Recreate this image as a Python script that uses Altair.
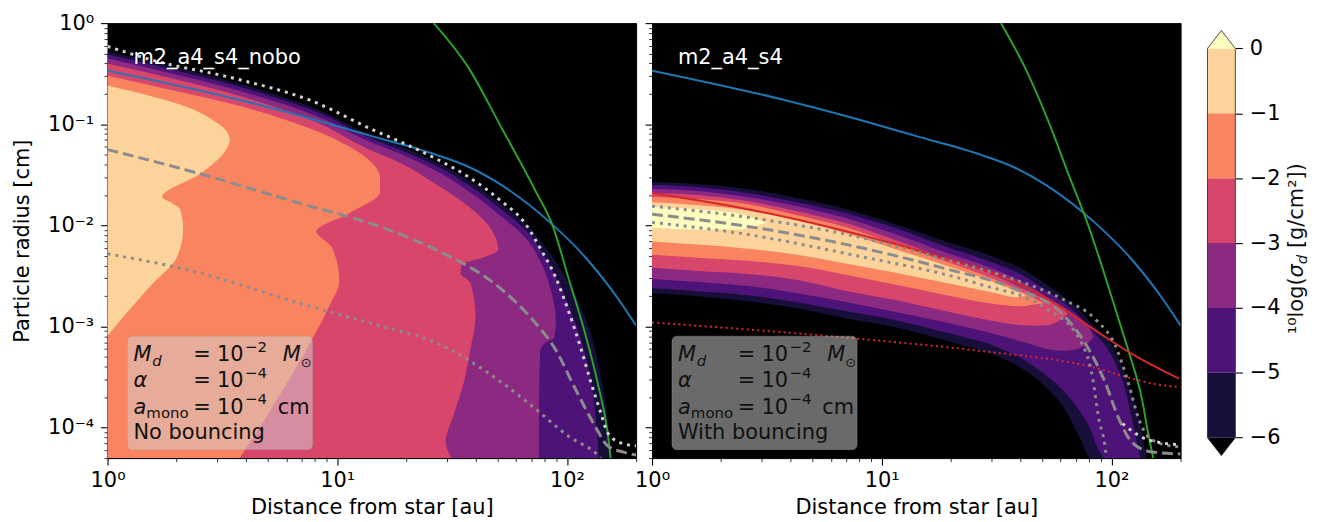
import altair as alt
import numpy as np
import pandas as pd

FONT = "DejaVu Sans"
FS = 21

# ---------------- axes ----------------
X_DOMAIN = [1, 200]
Y_DOMAIN = [5e-5, 1]
X_MAJOR = [1, 10, 100]
Y_MAJOR = [1e-4, 1e-3, 1e-2, 1e-1, 1]
X_MINOR = [2, 3, 4, 5, 6, 7, 8, 9, 20, 30, 40, 50, 60, 70, 80, 90, 200]
Y_MINOR = [5e-5, 6e-5, 7e-5, 8e-5, 9e-5,
           2e-4, 3e-4, 4e-4, 5e-4, 6e-4, 7e-4, 8e-4, 9e-4,
           2e-3, 3e-3, 4e-3, 5e-3, 6e-3, 7e-3, 8e-3, 9e-3,
           2e-2, 3e-2, 4e-2, 5e-2, 6e-2, 7e-2, 8e-2, 9e-2,
           0.2, 0.3, 0.4, 0.5, 0.6, 0.7, 0.8, 0.9]

# ---------------- colour levels ----------------
CBAR_TICKS = [-6, -5, -4, -3, -2, -1, 0]
LEVEL_COLORS = ["#170f3a", "#4e1379", "#8c2981", "#d8466b", "#f8855f", "#fcd49b"]
OVER_COLOR = "#fcfdbf"
UNDER_COLOR = "#000004"

# ---------------- left panel (no bouncing): level boundaries, log10 values ----------------
# right-hand edge (log10 x) of the region >= level, as a function of log10 y
L6_LOGY = [-0.28, -0.60, -0.82, -1.10, -1.22, -1.37, -1.55, -1.79, -1.98, -2.21, -2.47, -2.75, -3.04, -3.34, -3.63, -3.93, -4.17, -4.30]
L6_LOGX = [0, 0.576, 0.879, 1.139, 1.281, 1.429, 1.571, 1.714, 1.818, 1.905, 1.983, 2.048, 2.100, 2.134, 2.160, 2.177, 2.190, 2.195]
L5_LOGY = [-0.31, -0.63, -0.85, -1.13, -1.26, -1.41, -1.60, -1.84, -2.04, -2.28, -2.55, -2.85, -3.19, -3.53, -3.93, -4.30]
L5_LOGX = [0, 0.576, 0.879, 1.139, 1.281, 1.429, 1.571, 1.714, 1.818, 1.896, 1.961, 2.017, 2.069, 2.104, 2.126, 2.139]
L4_LOGY = [-0.35, -0.67, -0.89, -1.17, -1.30, -1.46, -1.66, -1.91, -2.12, -2.37, -2.65, -2.94, -3.11, -3.17, -3.26, -3.73, -4.30]
L4_LOGX = [0, 0.576, 0.879, 1.139, 1.281, 1.429, 1.571, 1.714, 1.818, 1.887, 1.931, 1.952, 1.944, 1.900, 1.883, 1.879, 1.879]
L3_LOGY = [-0.40, -0.72, -0.95, -1.25, -1.39, -1.59, -1.81, -2.04, -2.24, -2.31, -2.39, -2.47, -2.57, -2.90, -3.22, -3.56, -3.88, -4.14, -4.30]
L3_LOGX = [0, 0.576, 0.879, 1.139, 1.281, 1.429, 1.571, 1.671, 1.701, 1.645, 1.541, 1.537, 1.580, 1.602, 1.580, 1.550, 1.506, 1.472, 1.498]
L2_LOGY = [-0.52, -0.66, -0.82, -1.04, -1.22, -1.37, -1.52, -1.67, -1.88, -2.06, -2.22, -2.55, -2.80, -3.12, -3.68, -4.30]
L2_LOGX = [0, 0.273, 0.576, 0.879, 1.052, 1.147, 1.186, 1.186, 1.052, 0.909, 0.978, 1.009, 0.965, 0.892, 0.749, 0.576]
L1_LOGY = [-0.62, -0.72, -0.83, -0.96, -1.05, -1.16, -1.27, -1.49, -1.72, -1.78, -1.84, -2.04, -2.31, -2.60, -3.09]
L1_LOGX = [0, 0.186, 0.346, 0.459, 0.511, 0.532, 0.511, 0.403, 0.238, 0.281, 0.316, 0.329, 0.303, 0.186, 0]

# ---------------- right panel (with bouncing): upper / lower edge of each level ----------------
R6_LOGX = [0, 0.199, 0.416, 0.632, 0.848, 1.065, 1.281, 1.498, 1.628, 1.714, 1.801, 1.866, 1.909, 1.952, 1.996, 2.039, 2.082, 2.113, 2.139, 2.152]
R6_HI = [-1.57, -1.59, -1.64, -1.73, -1.84, -1.99, -2.16, -2.32, -2.45, -2.58, -2.72, -2.85, -2.96, -3.05, -3.16, -3.36, -3.61, -3.85, -4.12, -4.30]
R6_LO = [-2.67, -2.70, -2.75, -2.82, -2.92, -3.01, -3.14, -3.29, -3.44, -3.60, -3.83, -4.12, -4.30, -4.30, -4.30, -4.30, -4.30, -4.30, -4.30, -4.30]
R5_LOGX = [0, 0.199, 0.416, 0.632, 0.848, 1.065, 1.281, 1.498, 1.628, 1.714, 1.801, 1.866, 1.909, 1.931, 1.974, 2.017, 2.061, 2.091, 2.113, 2.126]
R5_HI = [-1.60, -1.62, -1.68, -1.77, -1.88, -2.03, -2.21, -2.38, -2.51, -2.64, -2.78, -2.91, -3.02, -3.08, -3.19, -3.36, -3.63, -3.93, -4.17, -4.30]
R5_LO = [-2.62, -2.65, -2.69, -2.76, -2.85, -2.94, -3.06, -3.20, -3.34, -3.48, -3.66, -3.85, -4.02, -4.15, -4.30, -4.30, -4.30, -4.30, -4.30, -4.30]
R4_LOGX = [0, 0.199, 0.416, 0.632, 0.848, 1.065, 1.281, 1.498, 1.628, 1.714, 1.801, 1.866, 1.909, 1.922]
R4_HI = [-1.64, -1.66, -1.72, -1.81, -1.93, -2.09, -2.27, -2.44, -2.58, -2.70, -2.82, -2.93, -3.04, -3.10]
R4_LO = [-2.53, -2.56, -2.60, -2.67, -2.76, -2.86, -2.96, -3.08, -3.16, -3.22, -3.24, -3.21, -3.14, -3.10]
R3_LOGX = [0, 0.199, 0.416, 0.632, 0.848, 1.065, 1.281, 1.498, 1.628, 1.714, 1.779, 1.810]
R3_HI = [-1.68, -1.70, -1.76, -1.86, -1.98, -2.15, -2.33, -2.50, -2.64, -2.73, -2.81, -2.87]
R3_LO = [-2.42, -2.45, -2.48, -2.54, -2.65, -2.74, -2.85, -2.95, -2.99, -2.99, -2.93, -2.87]
R2_LOGX = [0, 0.199, 0.416, 0.632, 0.848, 1.065, 1.281, 1.498, 1.606, 1.671, 1.706]
R2_HI = [-1.72, -1.74, -1.79, -1.90, -2.02, -2.19, -2.36, -2.54, -2.65, -2.73, -2.77]
R2_LO = [-2.29, -2.32, -2.35, -2.40, -2.49, -2.59, -2.69, -2.78, -2.80, -2.78, -2.77]
R1_LOGX = [0, 0.199, 0.416, 0.632, 0.848, 1.065, 1.281, 1.498, 1.584, 1.628]
R1_HI = [-1.77, -1.80, -1.85, -1.95, -2.08, -2.24, -2.40, -2.57, -2.65, -2.69]
R1_LO = [-2.16, -2.19, -2.23, -2.29, -2.38, -2.47, -2.57, -2.67, -2.71, -2.69]
R0_LOGX = [0, 0.199, 0.372, 0.459, 0.502]
R0_HI = [-1.82, -1.84, -1.88, -1.94, -1.97]
R0_LO = [-2.02, -2.04, -2.04, -2.00, -1.97]

# ---------------- overplotted curves (log10 x, log10 y) ----------------
BLUE_LOGX = [0, 0.576, 0.879, 1.139, 1.429, 1.571, 1.714, 1.931, 2.078, 2.221, 2.301]
BLUE_LOGY = [-0.47, -0.76, -0.94, -1.11, -1.30, -1.42, -1.60, -1.98, -2.31, -2.72, -2.99]
GREEN_L_LOGX = [1.420, 1.571, 1.714, 1.861, 1.939, 2.004, 2.078, 2.134, 2.177, 2.190]
GREEN_L_LOGY = [0.0, -0.44, -1.03, -1.65, -2.01, -2.50, -3.06, -3.56, -4.05, -4.30]
GREEN_R_LOGX = [1.519, 1.628, 1.727, 1.814, 1.896, 1.965, 2.030, 2.074, 2.134, 2.160, 2.182]
GREEN_R_LOGY = [0.0, -0.46, -0.98, -1.50, -1.98, -2.45, -2.92, -3.24, -3.73, -4.06, -4.30]
DASH_L_LOGX = [0, 0.403, 0.835, 1.182, 1.429, 1.714, 1.861, 1.948, 2.035, 2.121, 2.177, 2.242, 2.301]
DASH_L_LOGY = [-1.25, -1.49, -1.78, -2.01, -2.24, -2.63, -2.96, -3.22, -3.61, -3.98, -4.18, -4.24, -4.27]
DOT_L_LOGX = [0, 0.403, 0.835, 1.182, 1.429, 1.714, 1.861, 2.004, 2.134, 2.147]
DOT_L_LOGY = [-2.28, -2.47, -2.77, -2.99, -3.16, -3.55, -3.81, -4.08, -4.27, -4.30]
WDOT_L_LOGX = [0, 0.186, 0.576, 0.879, 1.160, 1.281, 1.429, 1.571, 1.714, 1.818, 1.887, 1.948, 2.004, 2.061, 2.104, 2.147, 2.177, 2.234, 2.301]
WDOT_L_LOGY = [-0.23, -0.36, -0.56, -0.76, -1.06, -1.18, -1.34, -1.52, -1.76, -1.98, -2.24, -2.50, -2.83, -3.22, -3.55, -3.85, -4.05, -4.15, -4.18]
RED_LOGX = [0, 0.416, 0.848, 1.281, 1.571, 1.788, 1.931, 2.104, 2.294]
RED_LOGY = [-1.68, -1.84, -2.06, -2.33, -2.55, -2.82, -3.04, -3.29, -3.515]
REDDOT_LOGX = [0, 0.848, 1.424, 1.857, 2.221, 2.301]
REDDOT_LOGY = [-2.96, -3.11, -3.24, -3.37, -3.58, -3.60]
DASH_R_LOGX = [0, 0.416, 0.848, 1.281, 1.571, 1.788, 1.887, 1.974, 2.030, 2.091, 2.177, 2.301]
DASH_R_LOGY = [-1.89, -2.01, -2.19, -2.43, -2.62, -2.88, -3.17, -3.56, -3.90, -4.15, -4.24, -4.26]
DOTA_R_LOGX = [0, 0.416, 0.848, 1.281, 1.571, 1.788, 1.931, 2.017, 2.074, 2.117, 2.160, 2.234, 2.301]
DOTA_R_LOGY = [-1.81, -1.92, -2.09, -2.34, -2.53, -2.73, -2.93, -3.19, -3.56, -3.90, -4.09, -4.17, -4.19]
DOTB_R_LOGX = [0, 0.416, 0.848, 1.424, 1.714, 1.857, 1.918, 1.944, 1.974, 1.978]
DOTB_R_LOGY = [-1.97, -2.09, -2.28, -2.58, -2.82, -3.11, -3.51, -3.90, -4.22, -4.30]
WDOT_R_LOGX = [2.048, 2.160, 2.301]
WDOT_R_LOGY = [-3.96, -4.12, -4.17]

PANEL_TITLES = ["m2_a4_s4_nobo", "m2_a4_s4"]
BOX_LAST = ["No bouncing", "With bouncing"]

# ---------------- helpers ----------------
XS = alt.Scale(type="log", domain=X_DOMAIN, nice=False)
YS = alt.Scale(type="log", domain=Y_DOMAIN, nice=False)
ONE = pd.DataFrame({"k": [0]})
XLAB = "datum.value == 1 ? '10⁰' : datum.value == 10 ? '10¹' : '10²'"
YLAB = ("datum.value > 0.5 ? '10⁰' : datum.value > 0.05 ? '10⁻¹' : datum.value > 0.005 ? '10⁻²' : "
        "datum.value > 0.0005 ? '10⁻³' : '10⁻⁴'")


def pw(v):
    return 10.0 ** np.asarray(v, dtype=float)


def hband(logy, logx, color):
    df = pd.DataFrame({"y": pw(logy), "x": pw(logx)})
    df["x0"] = 1.0
    return alt.Chart(df).mark_area(orient="horizontal", color=color, clip=True,
                                   interpolate="monotone").encode(
        y=alt.Y("y:Q", scale=YS, axis=None),
        x=alt.X("x0:Q", scale=XS, axis=None),
        x2="x:Q")


def vband(logx, hi, lo, color):
    df = pd.DataFrame({"x": pw(logx), "hi": pw(hi), "lo": pw(lo)})
    return alt.Chart(df).mark_area(color=color, clip=True, interpolate="monotone").encode(
        x=alt.X("x:Q", scale=XS, axis=None),
        y=alt.Y("lo:Q", scale=YS, axis=None),
        y2="hi:Q")


def curve(logx, logy, color, width, dash=None):
    df = pd.DataFrame({"x": pw(logx), "y": pw(logy), "i": range(len(logx))})
    kw = dict(color=color, strokeWidth=width, clip=True, interpolate="monotone")
    if dash:
        kw["strokeDash"] = dash
    return alt.Chart(df).mark_line(**kw).encode(
        x=alt.X("x:Q", scale=XS, axis=None),
        y=alt.Y("y:Q", scale=YS, axis=None),
        order="i:Q")


def axes_layers(ylabels, ytitle):
    pt = pd.DataFrame({"ax": [10.0], "ay": [0.01]})
    minor = alt.Chart(pt).mark_point(opacity=0).encode(
        x=alt.X("ax:Q", scale=XS, axis=alt.Axis(orient="bottom", values=X_MINOR, labels=False, title="",
                                                tickSize=3.5, tickWidth=0.8, domain=False, grid=False)),
        y=alt.Y("ay:Q", scale=YS, axis=alt.Axis(orient="left", values=Y_MINOR, labels=False, title="",
                                                tickSize=3.5, tickWidth=0.8, domain=False, grid=False)))
    yax = dict(orient="left", values=Y_MAJOR, labelExpr=YLAB, tickSize=7, tickWidth=1.1, labelPadding=7,
               labelFlush=False, domain=False, grid=False, title=ytitle, titlePadding=15)
    if not ylabels:
        yax["labels"] = False
    major = alt.Chart(pt).mark_point(opacity=0).encode(
        x=alt.X("ax:Q", scale=XS, axis=alt.Axis(orient="bottom", values=X_MAJOR, labelExpr=XLAB, tickSize=7,
                                                tickWidth=1.1, labelPadding=5, labelFlush=False, domain=False,
                                                grid=False, title="Distance from star [au]", titlePadding=6)),
        y=alt.Y("ay:Q", scale=YS, axis=alt.Axis(**yax)))
    return [minor, major]


def txt(s, x, y, size=FS, italic=False, color="#111111", angle=0, align="left"):
    kw = dict(text=s, font=FONT, fontSize=size, color=color, align=align, baseline="alphabetic")
    if italic:
        kw["fontStyle"] = "italic"
    if angle:
        kw["angle"] = angle
    return alt.Chart(ONE).mark_text(**kw).encode(x=alt.value(x), y=alt.value(y))


def info_box(last_line):
    box = alt.Chart(ONE).mark_rect(cornerRadius=5, fill="#d4d4d4", fillOpacity=0.5, stroke="#9a9a9a",
                                   strokeOpacity=0.35, strokeWidth=1).encode(
        x=alt.value(20), x2=alt.value(206), y=alt.value(314.5), y2=alt.value(428.5))
    pieces = [
        ("M", 26, 339.5, FS, True), ("d", 45, 344.5, 15, True), ("=", 86, 339.5, FS, False),
        ("10", 110, 339.5, FS, False), ("−2", 138, 330, 15, False), ("M", 176, 339.5, FS, True),
        ("⊙", 194, 345, 13, False),
        ("α", 26, 366, FS, True), ("=", 86, 366, FS, False), ("10", 110, 366, FS, False),
        ("−4", 138, 356.5, 15, False),
        ("a", 26, 392.5, FS, True), ("mono", 39, 396.5, 15, False), ("=", 86, 392.5, FS, False),
        ("10", 110, 392.5, FS, False), ("−4", 138, 383, 15, False), ("cm", 171, 392.5, FS, False),
        (last_line, 26, 417.5, FS, False),
    ]
    return [box] + [txt(s, x, y, size=sz, italic=it) for s, x, y, sz, it in pieces]


PANEL_VIEW = alt.ViewBackground(fill="#000000", stroke="#000000", strokeWidth=1)

# ---------------- left panel ----------------
left_layers = axes_layers(True, "Particle radius [cm]")
for ly, lx, col in [(L6_LOGY, L6_LOGX, LEVEL_COLORS[0]), (L5_LOGY, L5_LOGX, LEVEL_COLORS[1]),
                    (L4_LOGY, L4_LOGX, LEVEL_COLORS[2]), (L3_LOGY, L3_LOGX, LEVEL_COLORS[3]),
                    (L2_LOGY, L2_LOGX, LEVEL_COLORS[4]), (L1_LOGY, L1_LOGX, LEVEL_COLORS[5])]:
    left_layers.append(hband(ly, lx, col))
left_layers += [
    curve(BLUE_LOGX, BLUE_LOGY, "#1f77b4", 2),
    curve(GREEN_L_LOGX, GREEN_L_LOGY, "#2ca02c", 2),
    curve(DASH_L_LOGX, DASH_L_LOGY, "#8c8c8c", 3, [11, 5]),
    curve(DOT_L_LOGX, DOT_L_LOGY, "#8c8c8c", 3, [3, 5]),
    curve(WDOT_L_LOGX, WDOT_L_LOGY, "#d2d2d2", 3, [3, 5]),
]
left_layers += info_box(BOX_LAST[0])
left_layers.append(txt(PANEL_TITLES[0], 26, 41, color="#ffffff"))
left = alt.layer(*left_layers).resolve_axis(x="independent", y="independent").properties(
    width=531, height=437, view=PANEL_VIEW)

# ---------------- right panel ----------------
right_layers = axes_layers(False, "")
for lx, hi, lo, col in [(R6_LOGX, R6_HI, R6_LO, LEVEL_COLORS[0]), (R5_LOGX, R5_HI, R5_LO, LEVEL_COLORS[1]),
                        (R4_LOGX, R4_HI, R4_LO, LEVEL_COLORS[2]), (R3_LOGX, R3_HI, R3_LO, LEVEL_COLORS[3]),
                        (R2_LOGX, R2_HI, R2_LO, LEVEL_COLORS[4]), (R1_LOGX, R1_HI, R1_LO, LEVEL_COLORS[5]),
                        (R0_LOGX, R0_HI, R0_LO, OVER_COLOR)]:
    right_layers.append(vband(lx, hi, lo, col))
right_layers += [
    curve(BLUE_LOGX, BLUE_LOGY, "#1f77b4", 2),
    curve(GREEN_R_LOGX, GREEN_R_LOGY, "#2ca02c", 2),
    curve(RED_LOGX, RED_LOGY, "#d62728", 2),
    curve(REDDOT_LOGX, REDDOT_LOGY, "#d62728", 2, [2, 3.3]),
    curve(DOTA_R_LOGX, DOTA_R_LOGY, "#8c8c8c", 3, [3, 5]),
    curve(DOTB_R_LOGX, DOTB_R_LOGY, "#8c8c8c", 3, [3, 5]),
    curve(DASH_R_LOGX, DASH_R_LOGY, "#8c8c8c", 3, [11, 5]),
    curve(WDOT_R_LOGX, WDOT_R_LOGY, "#d2d2d2", 3, [3, 5]),
]
right_layers += info_box(BOX_LAST[1])
right_layers.append(txt(PANEL_TITLES[1], 26, 41, color="#ffffff"))
right = alt.layer(*right_layers).resolve_axis(x="independent", y="independent").properties(
    width=531, height=437, view=PANEL_VIEW)

# ---------------- colour bar ----------------
CBX = alt.Scale(domain=[-0.393, 1], nice=False, zero=False)
CBY = alt.Scale(domain=[-6.315, 0.391], nice=False, zero=False)
cb_df = pd.DataFrame({"lo": CBAR_TICKS[:-1], "hi": CBAR_TICKS[1:], "col": LEVEL_COLORS})
cb_df["x0"] = 0.0
cb_df["x1"] = 1.0
cb_rects = alt.Chart(cb_df).mark_rect().encode(
    x=alt.X("x0:Q", scale=CBX, axis=None), x2="x1:Q",
    y=alt.Y("lo:Q", scale=CBY, axis=alt.Axis(orient="right", values=CBAR_TICKS, format="d", tickSize=7,
                                            tickWidth=1.1, labelPadding=7, labelFlush=False, domain=False,
                                            grid=False, title="")),
    y2="hi:Q",
    color=alt.Color("col:N", scale=None))
tri_top = alt.Chart(pd.DataFrame({"tx": [0, 0.5, 1], "tb": [0, 0, 0], "tt": [0, 0.276, 0]})).mark_area(
    color=OVER_COLOR).encode(x=alt.X("tx:Q", scale=CBX, axis=None), y=alt.Y("tb:Q", scale=CBY, axis=None),
                             y2="tt:Q")
tri_bot = alt.Chart(pd.DataFrame({"tx": [0, 0.5, 1], "tb": [-6, -6, -6], "tt": [-6, -6.276, -6]})).mark_area(
    color=UNDER_COLOR).encode(x=alt.X("tx:Q", scale=CBX, axis=None), y=alt.Y("tb:Q", scale=CBY, axis=None),
                              y2="tt:Q")
outline = alt.Chart(pd.DataFrame({"ox": [0, 0.5, 1, 1, 0.5, 0, 0], "oy": [0, 0.276, 0, -6, -6.276, -6, 0],
                                  "i": range(7)})).mark_line(color="#222222", strokeWidth=0.8).encode(
    x=alt.X("ox:Q", scale=CBX, axis=None), y=alt.Y("oy:Q", scale=CBY, axis=None), order="i:Q")
cb_title = [
    txt("¹⁰log(", 107, 312.5, angle=270),
    txt("σ", 107, 255.5, italic=True, angle=270),
    txt("d", 111, 242.2, size=15, italic=True, angle=270),
    txt("[g/cm²])", 107, 226, angle=270),
]
cbar = alt.layer(cb_rects, tri_top, tri_bot, outline, *cb_title).resolve_axis(
    x="independent", y="independent").properties(
    width=39, height=437, view=alt.ViewBackground(stroke="transparent"))

chart = alt.hconcat(left, right, cbar, spacing=16, bounds="flush").properties(
    padding={"left": 3, "top": 2, "right": 0, "bottom": 2}
).configure_axis(
    labelFont=FONT, titleFont=FONT, labelFontSize=FS, titleFontSize=FS, titleFontWeight="normal",
    labelColor="#000000", titleColor="#000000", tickColor="#000000"
).configure_view(stroke="#000000")

chart.save("out.html", embed_options={"renderer": "svg", "actions": False})
